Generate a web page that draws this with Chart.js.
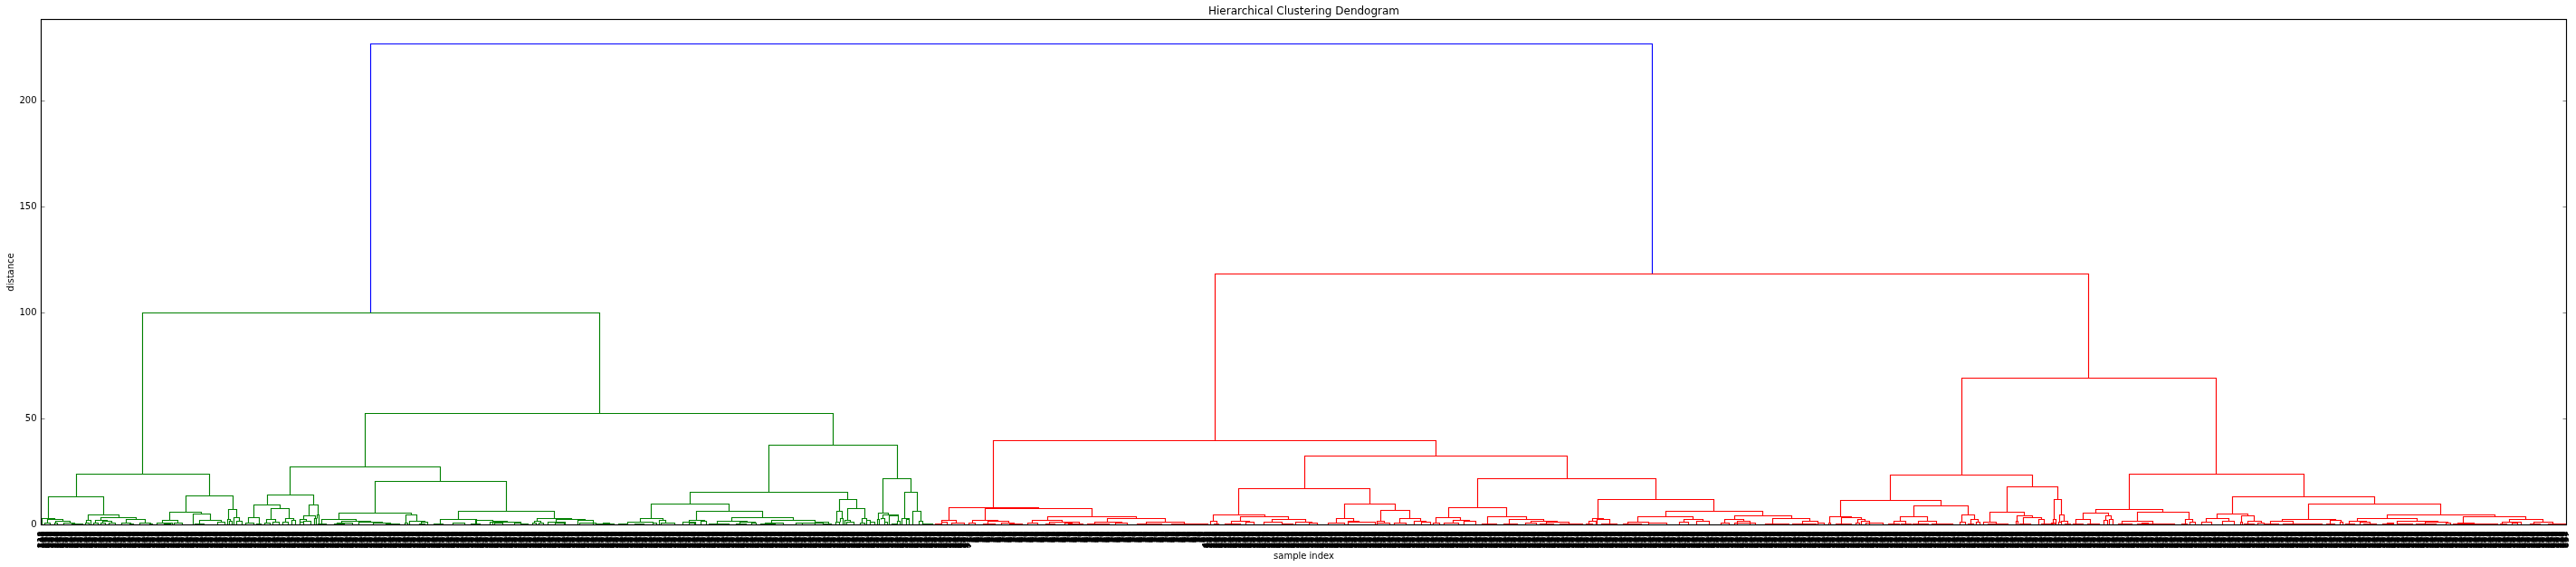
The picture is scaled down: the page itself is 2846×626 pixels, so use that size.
<!DOCTYPE html>
<html>
<head>
<meta charset="utf-8">
<title>Hierarchical Clustering Dendogram</title>
<script src="https://cdn.jsdelivr.net/npm/chart.js@4"></script>
<style>
    html, body { margin: 0; padding: 0; background: #fff; }
    canvas { display: block; }
</style>
</head>
<body>
<canvas id="myChart" width="2846" height="626"></canvas>
<script>
// each merge is [left leg x, right leg x, distance]
const blueMerges = [[363.8, 1780, 227]]

const greenMerges = [
    [111.8, 616.8, 100], [38.8, 185.8, 24], [357.8, 874.8, 52.6], [7.8, 68.8, 13.3], [159.8, 211.8, 13.7],
    [0.5, 15.2, 3.1], [6.8, 24.2, 2.6], [3.8, 9.8, 0.8], [15.8, 31.8, 1.6], [24.8, 37.2, 0.8], [33.8, 46.2, 0.4],
    [14.5, 17.8, 0.8], [51.8, 86.2, 4.6], [49.8, 55.2, 2.1], [48.5, 52.8, 0.8], [65.8, 105.2, 3.5], [60.2, 72.8, 2.1],
    [57.8, 62.8, 0.8], [67.8, 77.8, 1.6], [66.2, 71.2, 0.8], [74.5, 81.8, 0.8], [93.8, 115.2, 2.5], [88.8, 98.8, 0.8],
    [108.8, 121.2, 0.8], [97.8, 101.8, 0.5], [119.5, 123.2, 0.4], [141.8, 176.8, 6.1], [133.8, 151.2, 2.1],
    [127.8, 144.5, 0.8], [146.8, 155.5, 0.8], [136.2, 142.8, 0.5], [167.8, 186.8, 5.2], [174.8, 198.8, 2.1],
    [169.5, 180.2, 0.4], [194.8, 202.8, 1.2], [206.8, 215.8, 7.3], [205.8, 209.2, 2.5], [212.8, 218.8, 3.5],
    [208.2, 210.5, 1.6], [215.8, 222.2, 1.6], [274.8, 440.8, 27.4], [249.8, 300.8, 14.2], [234.8, 263.8, 9.5],
    [295.8, 305.8, 9.5], [228.8, 240.8, 3.5], [253.8, 273.8, 7.8], [248.8, 258.8, 2.5], [269.8, 278.8, 3.1],
    [289.8, 302.8, 4.3], [304.5, 307.2, 4.8], [285.8, 293.2, 2.5], [301.8, 303.8, 3.1], [225.8, 234.8, 0.8],
    [237.8, 243.2, 0.5], [246.8, 252.8, 0.8], [256.2, 262.8, 1.2], [267.2, 272.8, 1.2], [277.2, 281.2, 2.1],
    [286.2, 289.5, 1.2], [289.5, 297.8, 1.6], [306.2, 315.2, 0.4], [368.8, 513.8, 20.6], [328.8, 409.2, 5.6],
    [309.8, 347.8, 2.6], [402.8, 414.8, 4.8], [331.8, 364.2, 1.6], [326.8, 343.8, 0.8], [350.8, 377.2, 1.2],
    [366.8, 386.2, 0.8], [381.2, 396.2, 0.4], [323.8, 334.5, 0.4], [401.8, 405.2, 0.8], [406.8, 423.8, 1.6],
    [419.8, 426.8, 1.2], [417.8, 423.8, 0.4], [433.8, 443.8, 0.4], [460.8, 566.8, 6.5], [440.8, 480.8, 2.5],
    [454.5, 467.8, 0.8], [480.2, 498.5, 2.1], [498.5, 515.2, 1.6], [496.2, 529.5, 1.2], [501.2, 509.5, 0.8],
    [522.8, 529.5, 0.8], [529.5, 537.8, 0.4], [474.5, 484.5, 0.4], [547.8, 585.8, 3.1], [544.8, 552.2, 1.6],
    [568.8, 601.2, 2.6], [559.5, 578.5, 1.2], [592.8, 610.2, 2.2], [594.5, 612.8, 0.8], [612.8, 632.8, 0.5],
    [542.8, 547.2, 0.8], [549.5, 554.5, 0.8], [567.8, 577.8, 0.8], [621.2, 627.8, 0.8], [803.8, 945.8, 37.7],
    [716.8, 890.8, 15.5], [673.8, 759.8, 9.9], [661.8, 686.8, 3.1], [723.8, 796.8, 6.5], [715.8, 732.8, 2.2],
    [762.8, 830.8, 3.5], [746.8, 780.2, 1.8], [806.8, 854.8, 2.2], [647.8, 675.8, 1.4], [682.8, 690.2, 2.2],
    [637.8, 647.8, 0.4], [656.2, 665.5, 0.4], [675.8, 680.2, 0.8], [684.5, 699.5, 0.8], [708.8, 722.8, 1.2],
    [728.8, 734.5, 1.6], [716.2, 721.8, 0.8], [737.8, 759.5, 0.4], [771.8, 788.5, 1.2], [767.8, 778.5, 0.4],
    [784.5, 789.5, 0.8], [794.5, 811.2, 0.4], [799.5, 819.5, 0.8], [833.8, 863.8, 0.8], [841.2, 849.5, 1],
    [863.8, 872.8, 0.4], [855.2, 869.5, 1.2], [881.8, 900.8, 12], [878.8, 884.8, 6.5], [890.8, 909.8, 7.8],
    [882.8, 886.2, 3.1], [877.8, 881.8, 1.2], [887.8, 893.8, 2.1], [889.8, 897.8, 1.2], [906.8, 911.8, 3.1],
    [904.5, 909.5, 0.8], [911.8, 916.2, 2.2], [916.2, 921.2, 1.2], [929.8, 960.8, 21.9], [924.8, 936.2, 5.6],
    [927.8, 931.8, 3.1], [923.8, 925.8, 2.5], [929.8, 946.8, 4.6], [936.8, 946.8, 4.2], [931.8, 934.5, 1.2],
    [939.5, 946.2, 0.4], [953.8, 967.8, 15.5], [950.8, 958.8, 3.1], [962.8, 971.8, 6.5], [956.2, 958.8, 2.5],
    [946.2, 948.8, 1.6], [969.8, 973.8, 1.6], [974.5, 984.5, 0.4]
]

const redMerges = [
    [1296.8, 2262.3, 118.5], [1051.8, 1540.8, 39.8], [2121.8, 2402.8, 69.2], [1002.8, 1102.2, 8.2], [1042.8, 1160.8, 7.8],
    [994.5, 1011.2, 2.2], [994.5, 1001.2, 1.2], [1006.2, 1019.5, 0.8], [987.8, 994.5, 0.6], [1028.8, 1057.2, 2.2],
    [1025.2, 1031.8, 0.8], [1046.2, 1069.2, 1.6], [1040.5, 1053.8, 0.4], [1061.2, 1074.5, 0.8], [1069.5, 1083.5, 0.4],
    [1111.8, 1210.2, 3.9], [1094.8, 1128.2, 2.2], [1089.5, 1101.2, 0.8], [1113.8, 1147.2, 1.4], [1109.5, 1119.5, 0.5],
    [1131.2, 1138.5, 0.8], [1134.5, 1150.5, 0.4], [1177.8, 1242.2, 3.1], [1163.8, 1193.5, 1.2], [1220.8, 1263.2, 1.2],
    [1155.5, 1180.2, 0.4], [1186.8, 1199.8, 0.8], [1210.5, 1237.8, 0.4], [1248.5, 1288.5, 0.4], [1395.8, 1685.8, 32.5],
    [1322.8, 1467.8, 17.2], [1294.8, 1351.8, 4.8], [1291.8, 1298.5, 1.6], [1296.2, 1301.2, 0.5], [1324.8, 1377.8, 3.9],
    [1314.8, 1335.2, 1.6], [1359.8, 1397.2, 2.6], [1330.8, 1339.5, 1.2], [1307.8, 1324.5, 0.4], [1350.5, 1371.2, 1.2],
    [1386.2, 1403.8, 1.4], [1371.2, 1382.8, 0.6], [1400.5, 1409.5, 0.8], [1439.8, 1495.8, 9.9], [1430.8, 1449.8, 3.1],
    [1421.8, 1439.5, 0.8], [1443.8, 1456.2, 1.6], [1479.8, 1511.8, 6.9], [1443.8, 1473.5, 1.2], [1475.8, 1483.5, 1.6],
    [1476.2, 1489.5, 0.8], [1500.8, 1523.5, 3.1], [1494.5, 1507.8, 0.8], [1516.8, 1529.5, 1.6], [1524.5, 1534.5, 1.2],
    [1586.8, 1783.8, 21.9], [1554.8, 1618.8, 8.2], [1540.8, 1568.2, 3.5], [1597.8, 1641.2, 3.9], [1559.5, 1577.8, 2.2],
    [1537.8, 1544.5, 0.8], [1549.5, 1566.2, 0.8], [1571.8, 1584.5, 1.5], [1621.8, 1660.2, 2.6], [1591.8, 1607.8, 0.6],
    [1646.2, 1675.2, 1.6], [1616.2, 1631.2, 0.6], [1662.8, 1687.8, 1.2], [1639.5, 1651.8, 0.8], [1656.2, 1671.2, 0.4],
    [1677.8, 1702.8, 0.4], [1719.8, 1847.8, 12], [1713.8, 1726.2, 3.1], [1718.8, 1733.2, 2.6], [1709.5, 1717.8, 1.6],
    [1706.8, 1713.8, 0.5], [1723.8, 1741.2, 0.4], [1794.8, 1901.8, 6.5], [1763.8, 1824.8, 3.9], [1870.8, 1933.8, 4.3],
    [1752.8, 1776.2, 1.4], [1814.8, 1836.2, 2.6], [1859.8, 1881.2, 2.6], [1912.8, 1953.8, 3.1], [1747.8, 1767.8, 0.6],
    [1776.2, 1796.2, 0.8], [1809.8, 1819.5, 1.2], [1828.8, 1842.8, 1.6], [1855.5, 1864.5, 0.8], [1873.8, 1887.8, 1.6],
    [1870.5, 1893.8, 0.8], [1904.5, 1931.2, 0.6], [1946.2, 1962.8, 1.6], [1934.5, 1961.2, 0.5], [1962.8, 1969.5, 0.8],
    [2042.8, 2199.8, 23.6], [1987.8, 2098.8, 11.6], [1975.8, 2000.2, 3.9], [1988.8, 2011.2, 3.5], [2006.8, 2015.2, 2.5],
    [2010.8, 2020.2, 1.6], [1974.5, 1977.2, 0.8], [1982.8, 2000.2, 0.5], [2005.2, 2008.5, 0.8], [2016.2, 2034.5, 0.8],
    [2068.8, 2128.8, 9], [2053.8, 2083.8, 3.9], [2121.8, 2135.8, 4.8], [2046.8, 2060.2, 1.6], [2073.8, 2093.8, 1.6],
    [2041.2, 2052.8, 0.4], [2054.5, 2066.2, 0.5], [2067.8, 2085.2, 0.6], [2088.5, 2111.8, 0.5], [2119.5, 2126.2, 1.2],
    [2131.8, 2139.8, 2.5], [2129.2, 2134.5, 0.6], [2138.2, 2141.8, 1.2], [2171.8, 2227.8, 18], [2152.8, 2190.8, 6.1],
    [2223.8, 2231.8, 12], [2145.8, 2159.5, 1.2], [2150.5, 2172.8, 0.6], [2182.8, 2199.8, 4.3], [2189.8, 2210.2, 3.5],
    [2206.8, 2213.2, 2.5], [2181.5, 2184.2, 1.6], [2185.5, 2197.8, 0.4], [2209.5, 2222.8, 0.6], [2222.8, 2226.2, 2.5],
    [2221.2, 2224.5, 0.8], [2229.8, 2234.8, 4.8], [2228.8, 2231.8, 1.4], [2231.8, 2238.5, 1.6], [2236.2, 2241.8, 0.6],
    [2306.8, 2499.8, 24], [2269.8, 2343.8, 7.3], [2255.8, 2283.8, 5.6], [2315.8, 2372.8, 6.1], [2247.8, 2263.8, 2.6],
    [2280.8, 2286.8, 4.3], [2278.8, 2282.8, 2.2], [2284.8, 2288.8, 2.5], [2244.5, 2256.2, 0.6], [2261.2, 2273.8, 0.6],
    [2298.8, 2333.2, 1.8], [2368.8, 2376.8, 2.6], [2294.5, 2309.5, 0.4], [2315.5, 2336.2, 0.5], [2321.2, 2327.8, 0.8],
    [2337.2, 2357.2, 0.6], [2364.5, 2371.2, 0.6], [2373.8, 2379.5, 1.2], [2420.8, 2577.8, 13.3], [2403.8, 2438.2, 5.2],
    [2391.8, 2416.8, 3], [2386.8, 2397.8, 1.2], [2409.5, 2422.8, 1.6], [2430.8, 2445.2, 4.3], [2429.8, 2432.2, 1.2],
    [2437.8, 2453.2, 1.6], [2433.5, 2444.5, 0.4], [2448.5, 2456.2, 0.8], [2504.8, 2650.8, 9.9], [2475.8, 2535.2, 2.6],
    [2462.5, 2488.2, 1.6], [2528.8, 2541.2, 2.2], [2539.8, 2542.5, 1.4], [2456.2, 2471.8, 0.4], [2476.5, 2495.5, 0.6],
    [2487.8, 2519.5, 0.4], [2524.5, 2533.5, 0.4], [2591.8, 2710.8, 4.8], [2558.8, 2625.2, 3.1], [2675.8, 2744.8, 3.9],
    [2549.8, 2568.5, 1.6], [2602.8, 2647.5, 1.6], [2633.8, 2659.2, 1.2], [2561.8, 2573.2, 1.2], [2545.5, 2556.2, 0.4],
    [2566.2, 2580.2, 0.4], [2586.5, 2597.8, 0.5], [2592.2, 2598.5, 0.8], [2602.8, 2619.5, 0.6], [2623.8, 2646.2, 0.4],
    [2656.8, 2662.2, 0.8], [2664.8, 2713.5, 0.6], [2669.5, 2687.8, 0.9], [2726.8, 2764.2, 2.6], [2718.8, 2739.5, 1.2],
    [2753.8, 2775.2, 1.4], [2716.8, 2723.5, 0.4], [2749.5, 2761.2, 0.4], [2769.8, 2789.5, 0.6], [2729.5, 2736.2, 0.8]
]

const yTicks = [0, 50, 100, 150, 200]
const xMax = 2790
const yMax = 238.5

// leaf labels overlap into a solid band in the reference, these are stand-ins
const longLeafLabels = ['318', '742', '506', '129', '963', '284', '657', '431', '870', '215', '598', '346', '781', '162', '924', '473']
const shortLeafLabels = ['47', '82', '15', '63', '29', '91', '34', '76', '58', '20', '67', '43']
const leafSpacing = 1
const shortLabelRange = [1025.5, 1286.5]

const allMerges = [...blueMerges, ...greenMerges, ...redMerges]

// whole pixels on screen keep the lines crisp, 2790 wide and 558 tall plot
const snapX = x => Math.round(x)
const snapY = y => Math.round(y * 558 / yMax) * yMax / 558

// a leg goes down to the tallest merge centred under it, or to the baseline
function legBottom(x, h) {
    let best = 0
    allMerges.forEach(m => {
        const centre = (m[0] + m[1]) / 2
        if (m[2] < h && m[2] > best && Math.abs(centre - x) <= 3) best = m[2]
    })
    return best
}

function mergePoints(merges) {
    const points = []
    merges.forEach(m => {
        const left = snapX(m[0])
        const right = snapX(m[1])
        const top = snapY(m[2])
        points.push({ x: left, y: snapY(legBottom(m[0], m[2])) })
        points.push({ x: left, y: top })
        points.push({ x: right, y: top })
        points.push({ x: right, y: snapY(legBottom(m[1], m[2])) })
        points.push({ x: NaN, y: NaN })
    })
    return points
}

function linkDataset(merges, color) {
    return {
        data: mergePoints(merges),
        borderColor: color,
        borderWidth: 1.15,
        pointRadius: 0,
        showLine: true,
        spanGaps: false,
        tension: 0
    }
}

// frame on all four sides and the small inward y ticks on both of them
const framePlugin = {
    id: 'frame',
    afterDatasetsDraw(chart) {
        const { ctx, chartArea, scales } = chart
        ctx.save()
        ctx.strokeStyle = '#000'
        ctx.lineWidth = 0.5
        ctx.beginPath()
        yTicks.forEach(v => {
            const y = Math.floor(scales.y.getPixelForValue(v)) + 0.5
            ctx.moveTo(chartArea.left, y)
            ctx.lineTo(chartArea.left + 4, y)
            ctx.moveTo(chartArea.right, y)
            ctx.lineTo(chartArea.right - 4, y)
        })
        ctx.stroke()
        ctx.lineWidth = 1.15
        ctx.strokeRect(chartArea.left, chartArea.top, chartArea.right - chartArea.left, chartArea.bottom - chartArea.top)
        ctx.restore()
    }
}

Chart.defaults.font.family = '"DejaVu Sans"'
Chart.defaults.color = '#000'

new Chart(document.getElementById('myChart').getContext('2d'), {
    type: 'scatter',
    data: {
        datasets: [
            linkDataset(greenMerges, '#008000'),
            linkDataset(redMerges, '#ff0000'),
            linkDataset(blueMerges, '#0000ff')
        ]
    },
    options: {
        responsive: false,
        animation: false,
        layout: { padding: { right: 10.5 } },
        plugins: {
            legend: { display: false },
            tooltip: { enabled: false },
            title: {
                display: true,
                fullSize: false,
                text: 'Hierarchical Clustering Dendogram',
                font: { size: 12, weight: 'normal' },
                padding: { top: 6, bottom: 1.1 }
            }
        },
        scales: {
            x: {
                type: 'linear',
                min: 0,
                max: xMax,
                grid: { display: false, drawTicks: false },
                border: { display: false },
                title: { display: true, text: 'sample index', font: { size: 10 }, padding: { top: 0, bottom: 6 } },
                ticks: {
                    autoSkip: false,
                    minRotation: 90,
                    maxRotation: 90,
                    padding: 7,
                    font: { size: 9, weight: 'bold' },
                    callback: function(value, index) {
                        if (value >= shortLabelRange[0] && value <= shortLabelRange[1]) {
                            return shortLeafLabels[index % shortLeafLabels.length]
                        }
                        return longLeafLabels[index % longLeafLabels.length]
                    }
                },
                afterBuildTicks: function(scale) {
                    const leafTicks = []
                    for (let v = 0; v <= xMax; v += leafSpacing) leafTicks.push({ value: v })
                    scale.ticks = leafTicks
                },
                afterFit: function(scale) {
                    scale.height = 46.5
                    scale.paddingLeft = 0
                    scale.paddingRight = 0
                }
            },
            y: {
                min: 0,
                max: yMax,
                grid: { display: false, drawTicks: false },
                border: { display: false },
                title: { display: true, text: 'distance', font: { size: 10 }, padding: { top: 6, bottom: 0 } },
                ticks: {
                    padding: 5,
                    font: { size: 10 }
                },
                afterBuildTicks: function(scale) {
                    scale.ticks = yTicks.map(v => ({ value: v }))
                },
                afterFit: function(scale) {
                    scale.width = 45.5
                    scale.paddingTop = 0
                    scale.paddingBottom = 0
                }
            }
        }
    },
    plugins: [framePlugin]
})
</script>
</body>
</html>
